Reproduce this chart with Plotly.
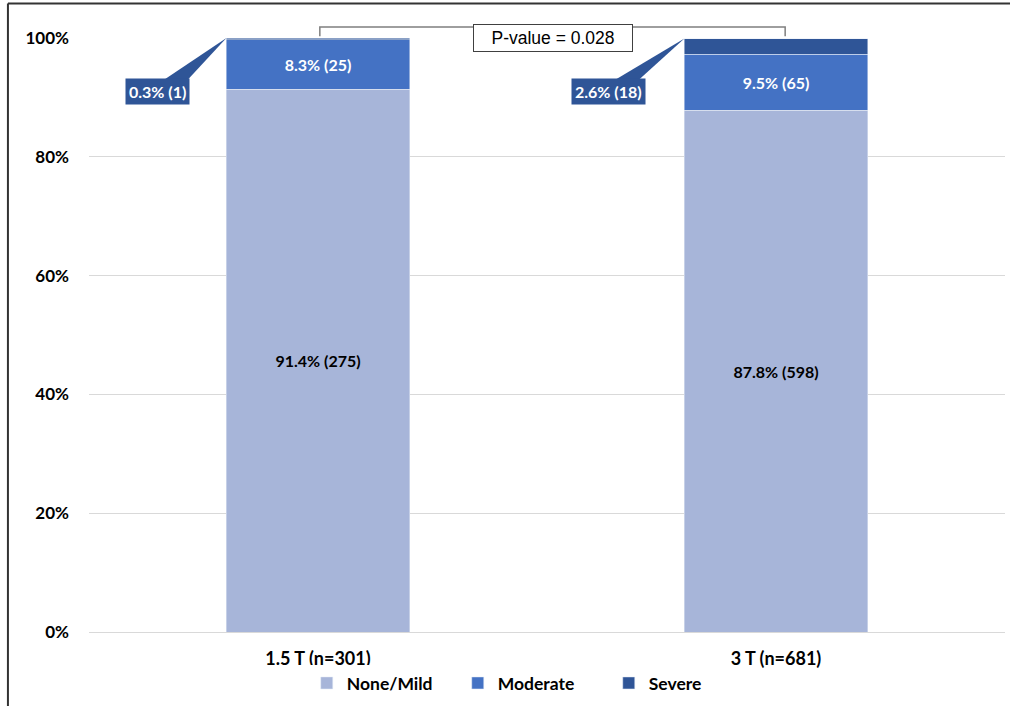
import plotly.graph_objects as go

categories = ["1.5 T (n=301)", "3 T (n=681)"]
none_mild_pct = [91.4, 87.8]
none_mild_n = [275, 598]
moderate_pct = [8.3, 9.5]
moderate_n = [25, 65]
severe_pct = [0.3, 2.6]
severe_n = [1, 18]
p_value_text = "P-value = 0.028"
y_ticks = [0, 20, 40, 60, 80, 100]

C_LIGHT = "#A7B5D9"
C_MOD = "#4472C4"
C_SEV = "#2F5597"
FONT = "Lato"

xpos = list(range(len(categories)))
fig = go.Figure()

fig.add_trace(go.Bar(
    x=xpos, y=none_mild_pct, name="None/Mild", marker_color=C_LIGHT, width=0.4,
    text=[f"{p}% ({n})" for p, n in zip(none_mild_pct, none_mild_n)],
    textposition="inside", insidetextanchor="middle",
    textfont=dict(color="black", size=16, family=FONT, weight="bold"),
))
fig.add_trace(go.Bar(
    x=xpos, y=moderate_pct, name="Moderate", marker_color=C_MOD, width=0.4,
    text=[f"{p}% ({n})" for p, n in zip(moderate_pct, moderate_n)],
    textposition="inside", insidetextanchor="middle",
    textfont=dict(color="white", size=16, family=FONT, weight="bold"),
))
fig.add_trace(go.Bar(
    x=xpos, y=severe_pct, name="Severe", marker_color=C_SEV, width=0.4,
    hoverinfo="y",
))

shapes = []
annotations = []

# callouts for severe
box_dx = [-0.35, -0.366]
box_y = 91.0
for i in xpos:
    top = none_mild_pct[i] + moderate_pct[i] + severe_pct[i]
    apex_x = i - 0.2
    bx = i + box_dx[i]
    annotations.append(dict(
        x=bx, y=box_y, xref="x", yref="y", showarrow=False,
        text=f"{severe_pct[i]}% ({severe_n[i]})",
        font=dict(color="white", size=16, family=FONT, weight="bold"),
        bgcolor=C_SEV, borderpad=3,
    ))
    # wedge
    b0 = bx + 0.005
    b1 = bx + 0.06
    yb = box_y + 1.5
    shapes.append(dict(
        type="path", xref="x", yref="y",
        path=f"M {b0} {yb} L {b1} {yb} L {apex_x} {min(top,100)} Z",
        fillcolor=C_SEV, line=dict(width=0), layer="above",
    ))

# P-value bracket
y_top = 1.0185
y_bot = 1.003
shapes.append(dict(
    type="path", xref="x", yref="paper",
    path=f"M 0.004 {y_bot} L 0.004 {y_top} L 1.02 {y_top} L 1.02 {y_bot}",
    line=dict(color="#7F7F7F", width=1.5),
))
annotations.append(dict(
    x=0.513, y=1.0, xref="x", yref="paper", showarrow=False,
    text=p_value_text, font=dict(size=17.5, family="Liberation Sans", color="black"),
    bgcolor="white", bordercolor="#404040", borderwidth=1, borderpad=2,
    width=154, height=22, yanchor="middle",
))

# frame (left and top)
shapes.append(dict(type="line", xref="paper", yref="paper",
                   x0=-0.0885, x1=-0.0885, y0=-0.13, y1=1.058,
                   line=dict(color="#333333", width=2)))
shapes.append(dict(type="line", xref="paper", yref="paper",
                   x0=-0.0885, x1=1.01, y0=1.058, y1=1.058,
                   line=dict(color="#333333", width=2)))

fig.update_layout(
    barmode="stack",
    width=1010, height=706,
    margin=dict(l=89, r=5, t=38, b=74),
    plot_bgcolor="white", paper_bgcolor="white",
    font=dict(family=FONT, color="black"),
    showlegend=True,
    legend=dict(orientation="h", x=0.485, xanchor="center", y=-0.086, yanchor="middle",
                font=dict(size=17.5, family=FONT, weight="bold"), traceorder="normal",
                entrywidth=106, itemwidth=30),
    shapes=shapes, annotations=annotations,
)
fig.update_xaxes(
    tickvals=xpos, ticktext=categories, range=[-0.5, 1.5],
    tickfont=dict(size=18, family=FONT, weight="bold"),
    showgrid=False, showline=False, zeroline=False, ticks="",
    ticklabelstandoff=14,
)
fig.update_yaxes(
    range=[0, 100], tickvals=y_ticks, ticktext=[f"{v}%" for v in y_ticks],
    tickfont=dict(size=17, family=FONT, weight="bold"),
    showgrid=True, gridcolor="#D9D9D9", gridwidth=1,
    zeroline=True, zerolinecolor="#D9D9D9", zerolinewidth=1,
    ticklabelstandoff=19, showline=False,
)

fig.write_html("out.html")
